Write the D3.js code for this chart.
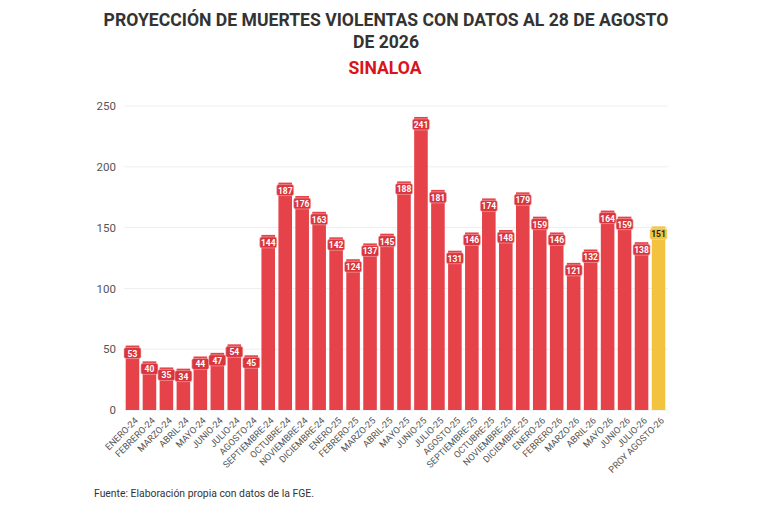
<!DOCTYPE html>
<html lang="es">
<head>
<meta charset="utf-8">
<title>Sinaloa</title>
<script src="https://cdn.jsdelivr.net/npm/d3@7"></script>
<style>
  body { margin: 0; background: #fff; }
  text { font-family: Roboto, "Liberation Sans", sans-serif; }
</style>
</head>
<body>
<script>
// meses y valores
var months = ["ENERO-24","FEBRERO-24","MARZO-24","ABRIL-24","MAYO-24","JUNIO-24","JULIO-24","AGOSTO-24",
  "SEPTIEMBRE-24","OCTUBRE-24","NOVIEMBRE-24","DICIEMBRE-24","ENERO-25","FEBRERO-25","MARZO-25","ABRIL-25",
  "MAYO-25","JUNIO-25","JULIO-25","AGOSTO-25","SEPTIEMBRE-25","OCTUBRE-25","NOVIEMBRE-25","DICIEMBRE-25",
  "ENERO-26","FEBRERO-26","MARZO-26","ABRIL-26","MAYO-26","JUNIO-26","JULIO-26","PROY AGOSTO-26"];
var deaths = [53,40,35,34,44,47,54,45,144,187,176,163,142,124,137,145,188,241,181,131,146,174,148,179,
  159,146,121,132,164,159,138,151];
var yTicks = [0,50,100,150,200,250];

var W = 768, H = 512;
var svg = d3.select("body").append("svg").attr("width", W).attr("height", H);

var x = d3.scaleBand().domain(months).range([124, 667]).paddingInner(0.2).paddingOuter(0.1);
var y = d3.scaleLinear().domain([0, 250]).range([410, 106]);

// titulo
svg.append("text").attr("x", 386).attr("y", 26).attr("text-anchor", "middle")
  .attr("font-size", 17.6).attr("font-weight", "bold").attr("fill", "#333")
  .text("PROYECCIÓN DE MUERTES VIOLENTAS CON DATOS AL 28 DE AGOSTO");
svg.append("text").attr("x", 386).attr("y", 48).attr("text-anchor", "middle")
  .attr("font-size", 17.6).attr("font-weight", "bold").attr("fill", "#333")
  .text("DE 2026");
svg.append("text").attr("x", 385).attr("y", 74).attr("text-anchor", "middle")
  .attr("font-size", 17.6).attr("font-weight", "bold").attr("fill", "#d9141c")
  .text("SINALOA");

// rejilla
svg.append("g").selectAll("line").data(yTicks).enter().append("line")
  .attr("x1", 124).attr("x2", 668)
  .attr("y1", function(d){ return y(d); }).attr("y2", function(d){ return y(d); })
  .attr("stroke", "#eeeeee");

var yAxis = svg.append("g").attr("transform", "translate(124,0)")
  .call(d3.axisLeft(y).tickValues(yTicks).tickSize(0).tickPadding(8));
yAxis.select(".domain").remove();
yAxis.selectAll("text").attr("font-size", 11.5).attr("fill", "#555")
  .style("font-family", "Roboto, sans-serif");

// barras
svg.append("g").selectAll("rect").data(deaths).enter().append("rect")
  .attr("x", function(d, i){ return x(months[i]); })
  .attr("y", function(d){ return y(d); })
  .attr("width", x.bandwidth())
  .attr("height", function(d){ return y(0) - y(d); })
  .attr("fill", function(d, i){ return i == deaths.length - 1 ? "#f3c33f" : "#e5424a"; });

// etiquetas de valor
var lab = svg.append("g").selectAll("g").data(deaths).enter().append("g")
  .attr("transform", function(d, i){
    return "translate(" + (x(months[i]) + x.bandwidth() / 2) + "," + (y(d) + 8) + ")";
  });
lab.append("rect").attr("x", -8.5).attr("y", -6).attr("width", 17).attr("height", 11).attr("rx", 2)
  .attr("fill", function(d, i){ return i == deaths.length - 1 ? "#f3c33f" : "#d8353d"; })
  .attr("stroke", function(d, i){ return i == deaths.length - 1 ? "#f7dc8a" : "#f5b0b3"; })
  .attr("stroke-width", 0.6);
lab.append("text").attr("text-anchor", "middle").attr("dy", 3)
  .attr("font-size", 8.5).attr("font-weight", "bold")
  .attr("fill", function(d, i){ return i == deaths.length - 1 ? "#222" : "#fff"; })
  .text(function(d){ return d; });

// eje x
var xAxis = svg.append("g").attr("transform", "translate(0,410)")
  .call(d3.axisBottom(x).tickSize(0).tickPadding(4));
xAxis.select(".domain").remove();
xAxis.selectAll("text")
  .attr("font-size", 9.2).attr("fill", "#555")
  .style("font-family", "Roboto, sans-serif")
  .attr("text-anchor", "end")
  .attr("transform", "translate(1,6) rotate(-45)")
  .attr("dy", "0.35em");

// fuente
svg.append("text").attr("x", 94).attr("y", 497).attr("font-size", 10.4).attr("fill", "#333")
  .text("Fuente: Elaboración propia con datos de la FGE.");
</script>
</body>
</html>
